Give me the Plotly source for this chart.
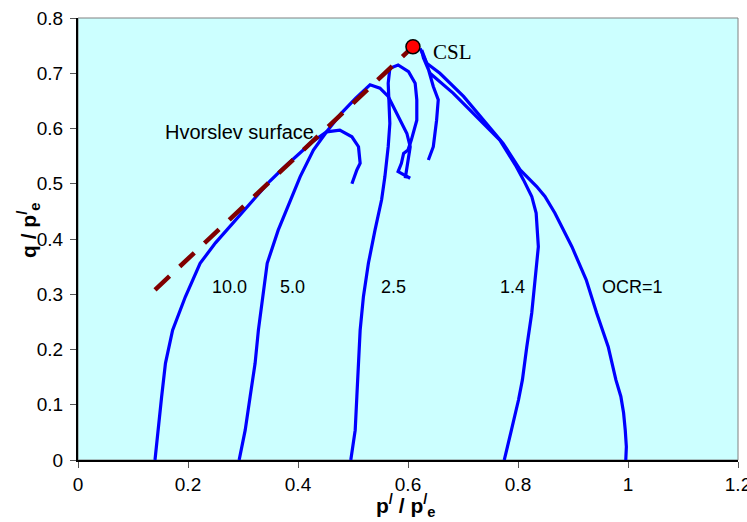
import plotly.graph_objects as go

# ---- data (p'/p'e , q/p'e) ----
ocr10_p = [0.140, 0.143, 0.147, 0.152, 0.159, 0.172, 0.195, 0.222, 0.250, 0.270, 0.310, 0.349, 0.373, 0.400, 0.425, 0.452, 0.476, 0.498, 0.510, 0.513, 0.507, 0.498]
ocr10_q = [0.000, 0.030, 0.070, 0.114, 0.175, 0.235, 0.295, 0.356, 0.393, 0.416, 0.462, 0.505, 0.528, 0.553, 0.575, 0.594, 0.597, 0.585, 0.567, 0.537, 0.525, 0.500]

ocr5_p = [0.293, 0.298, 0.304, 0.313, 0.322, 0.328, 0.336, 0.344, 0.364, 0.379, 0.404, 0.428, 0.452, 0.479, 0.505, 0.531, 0.549, 0.564, 0.579, 0.598, 0.604, 0.600, 0.595]
ocr5_q = [0.000, 0.025, 0.054, 0.115, 0.175, 0.235, 0.296, 0.356, 0.416, 0.452, 0.513, 0.561, 0.594, 0.628, 0.655, 0.679, 0.673, 0.658, 0.627, 0.591, 0.567, 0.543, 0.510]

ocr25_p = [0.496, 0.500, 0.504, 0.507, 0.510, 0.513, 0.519, 0.528, 0.540, 0.552, 0.558, 0.564, 0.567, 0.566, 0.564, 0.567, 0.582, 0.601, 0.613, 0.616, 0.616, 0.606, 0.600, 0.592, 0.588, 0.582, 0.592, 0.604]
ocr25_q = [0.000, 0.025, 0.054, 0.115, 0.175, 0.235, 0.296, 0.356, 0.416, 0.471, 0.513, 0.567, 0.609, 0.645, 0.682, 0.709, 0.715, 0.703, 0.682, 0.652, 0.615, 0.579, 0.561, 0.555, 0.537, 0.522, 0.516, 0.510]

ocr14_p = [0.775, 0.781, 0.788, 0.801, 0.808, 0.816, 0.825, 0.831, 0.837, 0.833, 0.825, 0.810, 0.797, 0.767, 0.731, 0.682, 0.640, 0.628, 0.625, 0.634, 0.646, 0.655, 0.652, 0.646, 0.637]
ocr14_q = [0.000, 0.027, 0.054, 0.109, 0.145, 0.205, 0.266, 0.326, 0.386, 0.447, 0.477, 0.507, 0.531, 0.579, 0.615, 0.664, 0.700, 0.728, 0.742, 0.718, 0.676, 0.652, 0.615, 0.567, 0.543]

ocr1_p = [0.996, 0.997, 0.995, 0.992, 0.987, 0.978, 0.964, 0.943, 0.924, 0.898, 0.867, 0.849, 0.834, 0.804, 0.773, 0.743, 0.701, 0.658, 0.634, 0.622]
ocr1_q = [0.000, 0.024, 0.054, 0.085, 0.115, 0.145, 0.205, 0.266, 0.326, 0.386, 0.447, 0.477, 0.495, 0.525, 0.573, 0.609, 0.658, 0.700, 0.718, 0.745]

hvorslev_p = [0.140, 0.609]
hvorslev_q = [0.308, 0.748]

csl_p = [0.609]
csl_q = [0.748]

curve_labels = ["10.0", "5.0", "2.5", "1.4", "OCR=1"]
label_p = [0.275, 0.390, 0.573, 0.790, 1.009]
label_q = [0.313, 0.313, 0.313, 0.313, 0.313]

x_ticks = [0, 0.2, 0.4, 0.6, 0.8, 1.0, 1.2]
x_ticktext = ["0", "0.2", "0.4", "0.6", "0.8", "1", "1.2"]
y_ticks = [0, 0.1, 0.2, 0.3, 0.4, 0.5, 0.6, 0.7, 0.8]
y_ticktext = ["0", "0.1", "0.2", "0.3", "0.4", "0.5", "0.6", "0.7", "0.8"]

BLUE = "#0000FF"
SANS = "Arial, Liberation Sans"
fig = go.Figure()

for px_, qy_ in [(ocr10_p, ocr10_q), (ocr5_p, ocr5_q), (ocr25_p, ocr25_q),
                 (ocr14_p, ocr14_q), (ocr1_p, ocr1_q)]:
    fig.add_trace(go.Scatter(x=px_, y=qy_, mode="lines",
                             line=dict(color=BLUE, width=3.2), showlegend=False))

fig.add_trace(go.Scatter(x=hvorslev_p, y=hvorslev_q, mode="lines",
                         line=dict(color="#800000", width=4.5, dash="20px,14px"),
                         showlegend=False))

fig.add_trace(go.Scatter(x=csl_p, y=csl_q, mode="markers",
                         marker=dict(color="#FF0000", size=14,
                                     line=dict(color="black", width=1.5)),
                         showlegend=False, cliponaxis=False))

for t, xv, yv in zip(curve_labels, label_p, label_q):
    fig.add_annotation(x=xv, y=yv, xref="x", yref="y", text=t, showarrow=False,
                       xanchor="center", yanchor="middle",
                       font=dict(family=SANS, size=18, color="black"))
fig.add_annotation(x=0.2945, y=0.594, xref="x", yref="y", text="Hvorslev surface",
                   showarrow=False, xanchor="center", yanchor="middle",
                   font=dict(family=SANS, size=20, color="black"))
fig.add_annotation(x=0.642, y=0.738, xref="x", yref="y", text="CSL", showarrow=False,
                   xanchor="left", yanchor="middle",
                   font=dict(family="Liberation Serif, Times New Roman", size=21, color="black"))

# axis titles
fig.add_annotation(x=(406 - 78) / 660, y=-(505 - 460) / 442, xref="paper", yref="paper",
                   text="<b>p<sup>/</sup> / p<sup>/</sup><sub>e</sub></b>", showarrow=False,
                   xanchor="center", yanchor="middle",
                   font=dict(family=SANS, size=21, color="black"))
fig.add_annotation(x=-(78 - 29) / 660, y=(460 - 230) / 442, xref="paper", yref="paper",
                   text="<b>q / p<sup>/</sup><sub>e</sub></b>", showarrow=False, textangle=-90,
                   xanchor="center", yanchor="middle",
                   font=dict(family=SANS, size=21, color="black"))

fig.add_shape(type="rect", xref="paper", yref="paper", x0=0, y0=0, x1=1, y1=1,
              line=dict(color="#808080", width=1), layer="below")

axis_common = dict(showgrid=False, zeroline=False, showline=True, linecolor="black", linewidth=2,
                   ticks="outside", ticklen=6, tickcolor="#555555", tickwidth=1,
                   ticklabeloverflow="allow", automargin=False,
                   tickfont=dict(family=SANS, size=19, color="black"))
fig.update_xaxes(range=[0, 1.2], tickvals=x_ticks, ticktext=x_ticktext, **axis_common)
fig.update_yaxes(range=[0, 0.8], tickvals=y_ticks, ticktext=y_ticktext,
                 ticklabelstandoff=3, **axis_common)

fig.update_layout(width=747, height=522, margin=dict(l=78, r=9, t=18, b=62),
                  plot_bgcolor="#CCFFFF", paper_bgcolor="white", showlegend=False)

fig.write_html("out.html")
